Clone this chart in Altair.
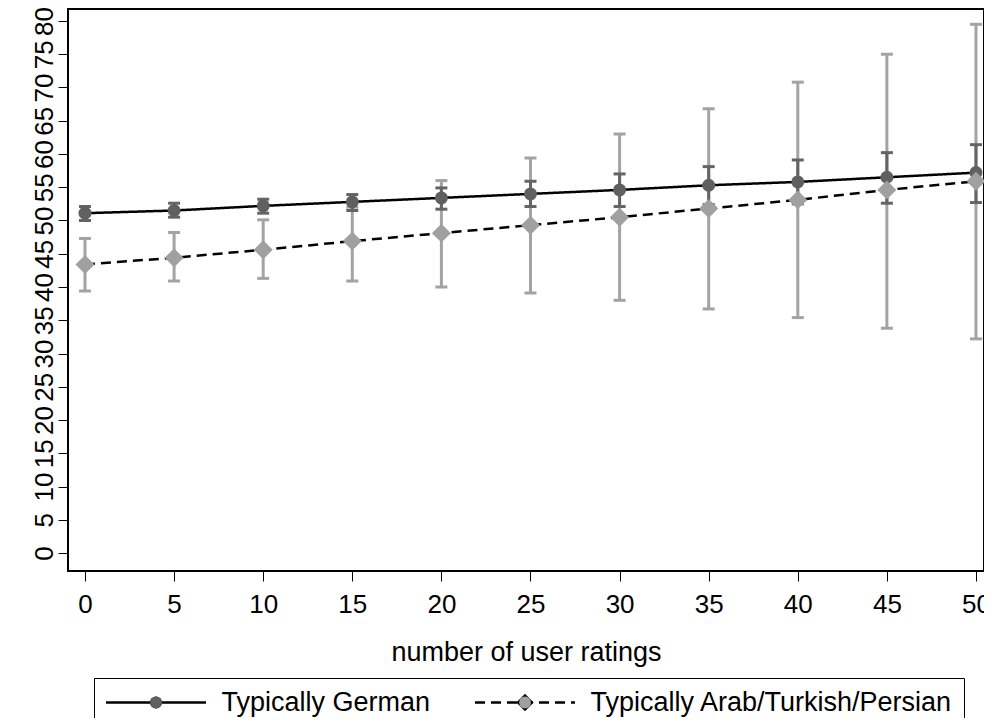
import altair as alt
import pandas as pd

# ---- data ----
x_vals = [0, 5, 10, 15, 20, 25, 30, 35, 40, 45, 50]
series_names = ["Typically German", "Typically Arab/Turkish/Persian"]

german_mean = [51.1, 51.5, 52.2, 52.8, 53.4, 54.0, 54.6, 55.3, 55.8, 56.5, 57.2]
german_lo = [50.0, 50.5, 51.1, 51.5, 51.7, 52.1, 52.1, 52.4, 52.5, 52.6, 52.7]
german_hi = [52.1, 52.6, 53.2, 53.9, 54.9, 55.9, 57.0, 58.1, 59.1, 60.2, 61.4]

arab_mean = [43.4, 44.4, 45.6, 46.9, 48.1, 49.3, 50.5, 51.8, 53.1, 54.6, 55.9]
arab_lo = [39.4, 40.9, 41.3, 40.9, 40.0, 39.1, 38.0, 36.7, 35.4, 33.8, 32.2]
arab_hi = [47.3, 48.2, 50.1, 52.0, 56.0, 59.4, 63.0, 66.8, 70.8, 75.0, 79.5]

x_ticks = [0, 5, 10, 15, 20, 25, 30, 35, 40, 45, 50]
y_ticks = [0, 5, 10, 15, 20, 25, 30, 35, 40, 45, 50, 55, 60, 65, 70, 75, 80]

rows = []
for name, m, lo, hi in [
    (series_names[0], german_mean, german_lo, german_hi),
    (series_names[1], arab_mean, arab_lo, arab_hi),
]:
    for xv, mv, lv, hv in zip(x_vals, m, lo, hi):
        rows.append({"x": xv, "mean": mv, "lo": lv, "hi": hv,
                     "series": name, "series_m": name})
df = pd.DataFrame(rows)
df_german = df[df["series"] == series_names[0]]
df_arab = df[df["series"] == series_names[1]]

FONT = "Liberation Sans"
FS_TICK = 26
FS_TEXT = 27

# diamond drawn a bit larger than the circle for the same symbol size
DIAMOND = "M0,-1.46L1.46,0L0,1.46L-1.46,0Z"

x_scale = alt.Scale(domain=[-0.954, 50.45], nice=False, zero=False)
y_scale = alt.Scale(domain=[-2.7, 81.8], nice=False, zero=False)

x_axis = alt.Axis(values=x_ticks, title="number of user ratings", grid=False, domain=False,
                  tickSize=10, tickColor="black", tickWidth=1,
                  labelFont=FONT, labelFontSize=FS_TICK, labelColor="black", labelPadding=10,
                  labelFlush=False, labelOverlap=False,
                  titleFont=FONT, titleFontSize=FS_TEXT, titleFontWeight="normal",
                  titleColor="black", titlePadding=22)
y_axis = alt.Axis(values=y_ticks, title=None, grid=False, domain=False,
                  tickSize=10, tickColor="black", tickWidth=1,
                  labelFont=FONT, labelFontSize=FS_TICK, labelColor="black",
                  labelAngle=270, labelAlign="center", labelBaseline="alphabetic",
                  labelPadding=6, labelOverlap=False)

X = alt.X("x:Q", scale=x_scale, axis=x_axis)


def errorbars(data, color):
    rule = alt.Chart(data).mark_rule(color=color, strokeWidth=3).encode(
        x=X, y=alt.Y("lo:Q", scale=y_scale, axis=y_axis), y2="hi:Q")
    cap_lo = alt.Chart(data).mark_tick(orient="horizontal", color=color, thickness=3,
                                        size=12, opacity=1).encode(
        x=X, y=alt.Y("lo:Q", scale=y_scale, axis=y_axis))
    cap_hi = alt.Chart(data).mark_tick(orient="horizontal", color=color, thickness=3,
                                        size=12, opacity=1).encode(
        x=X, y=alt.Y("hi:Q", scale=y_scale, axis=y_axis))
    return [rule, cap_lo, cap_hi]


leg_lines = alt.Legend(title=None, orient="none", legendX=26, legendY=669,
                       direction="horizontal", symbolType="stroke", symbolSize=10000,
                       symbolStrokeWidth=2.5, symbolStrokeColor="black",
                       labelFont=FONT, labelFontSize=FS_TEXT, labelColor="black",
                       labelOffset=14, labelLimit=1000, columnPadding=43, padding=10.5,
                       strokeColor="black", clipHeight=28)
leg_marks = alt.Legend(title=None, orient="none", legendX=26, legendY=669,
                       direction="horizontal", symbolStrokeWidth=0, symbolOpacity=1,
                       symbolSize=140, symbolOffset=38,
                       labelFont=FONT, labelFontSize=FS_TEXT, labelOpacity=0,
                       labelOffset=52, labelLimit=1000, columnPadding=43, padding=10.5,
                       clipHeight=28)

lines = alt.Chart(df).mark_line(color="black", strokeWidth=2.5).encode(
    x=X,
    y=alt.Y("mean:Q", scale=y_scale, axis=y_axis),
    strokeDash=alt.StrokeDash("series:N", sort=series_names,
                              scale=alt.Scale(range=[[1, 0], [10, 6]]),
                              legend=leg_lines),
)

points = alt.Chart(df).mark_point(filled=True, opacity=1, strokeWidth=0, size=169).encode(
    x=X,
    y=alt.Y("mean:Q", scale=y_scale, axis=y_axis),
    shape=alt.Shape("series_m:N", sort=series_names,
                    scale=alt.Scale(range=["circle", DIAMOND]), legend=leg_marks),
    fill=alt.Fill("series_m:N", sort=series_names,
                  scale=alt.Scale(range=["#606060", "#a0a0a0"]), legend=leg_marks),
)

layers = errorbars(df_arab, "#a3a3a3") + errorbars(df_german, "#646464") + [lines, points]

chart = alt.layer(*layers).properties(
    width=916,
    height=562,
    padding={"left": 60, "top": 1, "right": 0, "bottom": 147},
    autosize=alt.AutoSizeParams(type="none"),
).configure_view(stroke="black", strokeWidth=2)

chart.save("out.html", embed_options={"renderer": "svg", "actions": False})
